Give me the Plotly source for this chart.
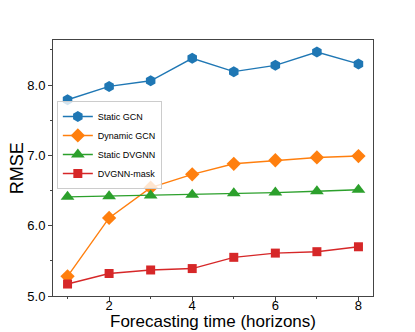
import plotly.graph_objects as go

# forecasting horizons
horizons = [1, 2, 3, 4, 5, 6, 7, 8]

# RMSE per model
static_gcn = [7.79, 7.98, 8.06, 8.38, 8.19, 8.28, 8.47, 8.30]
dynamic_gcn = [5.28, 6.11, 6.54, 6.73, 6.88, 6.93, 6.97, 6.99]
static_dvgnn = [6.41, 6.42, 6.43, 6.44, 6.46, 6.47, 6.49, 6.51]
dvgnn_mask = [5.17, 5.32, 5.37, 5.39, 5.55, 5.61, 5.63, 5.70]

series = [
    ("Static GCN", static_gcn, "#1f77b4", "hexagon", 11),
    ("Dynamic GCN", dynamic_gcn, "#ff7f0e", "diamond", 11),
    ("Static DVGNN", static_dvgnn, "#2ca02c", "triangle-up", 12),
    ("DVGNN-mask", dvgnn_mask, "#d62728", "square", 9),
]

fig = go.Figure()

for name, vals, col, sym, sz in series:
    fig.add_trace(go.Scatter(
        x=horizons, y=vals, name=name,
        mode="lines+markers",
        line=dict(color=col, width=1.4),
        marker=dict(symbol=sym, size=sz, color=col, line=dict(width=0)),
    ))

axis_common = dict(
    showgrid=False, zeroline=False, automargin=False,
    showline=True, linecolor="#444", linewidth=1, mirror=True,
    ticks="outside", ticklen=4, tickcolor="#444",
    tickfont=dict(size=13, color="black"),
)

# page body adds an 8px offset, so the figure is a bit smaller than the window
fig.update_layout(
    width=407, height=324,
    margin=dict(l=45, r=42, t=32, b=36),
    paper_bgcolor="white", plot_bgcolor="white",
    font=dict(family="Liberation Sans, Arial, sans-serif", color="black"),
    showlegend=True,
    legend=dict(
        x=0.012, y=0.59, xanchor="left", yanchor="middle",
        bgcolor="rgba(255,255,255,0.8)", bordercolor="#cccccc", borderwidth=1,
        font=dict(size=9), tracegroupgap=0, itemwidth=30,
    ),
    xaxis=dict(
        axis_common, range=[0.65, 8.35],
        tickvals=[2, 4, 6, 8], ticklabelstandoff=-7,
        minor=dict(tickvals=[1, 3, 5, 7], ticks="outside", ticklen=2, tickcolor="#444"),
    ),
    yaxis=dict(
        axis_common, range=[5.0, 8.64],
        tickvals=[5, 6, 7, 8], tickformat=".1f",
        minor=dict(tickvals=[5.5, 6.5, 7.5, 8.5], ticks="outside", ticklen=2, tickcolor="#444"),
    ),
)

# axis titles placed as annotations so they sit where the reference has them
fig.add_annotation(
    text="Forecasting time (horizons)", xref="paper", yref="paper",
    x=0.5, y=-0.1, xanchor="center", yanchor="middle",
    showarrow=False, font=dict(size=17),
)
fig.add_annotation(
    text="RMSE", xref="paper", yref="paper",
    x=-0.112, y=0.5, xanchor="center", yanchor="middle", textangle=-90,
    showarrow=False, font=dict(size=18),
)

fig.write_html("out.html")
